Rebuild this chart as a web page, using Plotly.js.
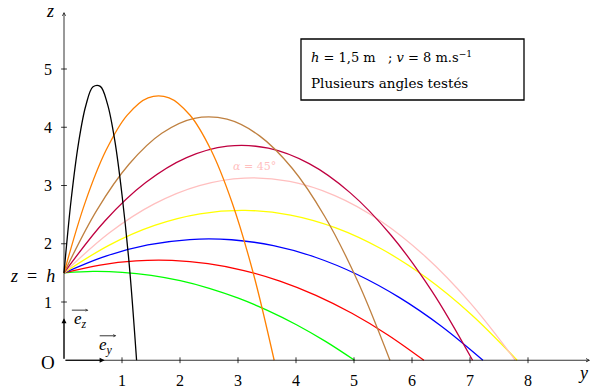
<!DOCTYPE html>
<html>
<head>
<meta charset="utf-8">
<script src="https://cdn.plot.ly/plotly-3.0.1.min.js"></script>
<style>html,body{margin:0;padding:0;background:#fff;}#chart{width:600px;height:391px;}</style>
</head>
<body>
<div id="chart"></div>
<script>
// Launch angles (degrees) and trajectories y (m) / z (m)
const angles = [5, 15, 25, 35, 45, 55, 65, 75, 85];

const y05 = [0, 0.501, 1.002, 1.503, 2.004, 2.505, 3.006, 3.507, 4.008, 4.509, 5.010];
const z05 = [1.5, 1.5245, 1.5101, 1.4570, 1.3652, 1.2346, 1.0652, 0.8570, 0.6101, 0.3244, 0];

const y15 = [0, 0.6205, 1.2410, 1.8615, 2.4820, 3.1025, 3.7229, 4.3434, 4.9639, 5.5844, 6.2049];
const z15 = [1.5, 1.6346, 1.7060, 1.7141, 1.6590, 1.5406, 1.3590, 1.1141, 0.8060, 0.4346, 0];

const y25 = [0, 0.7223, 1.4446, 2.1670, 2.8893, 3.6116, 4.3339, 5.0562, 5.7786, 6.5009, 7.2232];
const z25 = [1.5, 1.7881, 1.9789, 2.0723, 2.0684, 1.9671, 1.7684, 1.4723, 1.0789, 0.5881, 0];

const y35 = [0, 0.7812, 1.5623, 2.3435, 3.1247, 3.9059, 4.6870, 5.4682, 6.2494, 7.0305, 7.8117];
const z35 = [1.5, 1.9773, 2.3152, 2.5137, 2.5728, 2.4925, 2.2728, 1.9137, 1.4152, 0.7773, 0];

const y45 = [0, 0.7782, 1.5563, 2.3345, 3.1126, 3.8908, 4.6689, 5.4471, 6.2252, 7.0034, 7.7815];
const z45 = [1.5, 2.1853, 2.6850, 2.9991, 3.1276, 3.0704, 2.8276, 2.3991, 1.7850, 0.9853, 0];

const y55 = [0, 0.7045, 1.4089, 2.1134, 2.8178, 3.5223, 4.2267, 4.9312, 5.6356, 6.3401, 7.0445];
const z55 = [1.5, 2.3905, 3.0497, 3.4777, 3.6745, 3.6402, 3.3745, 2.8777, 2.1497, 1.1905, 0];

const y65 = [0, 0.5620, 1.1239, 1.6859, 2.2479, 2.8099, 3.3718, 3.9338, 4.4958, 5.0577, 5.6197];
const z65 = [1.5, 2.5696, 3.3682, 3.8958, 4.1524, 4.1379, 3.8524, 3.2958, 2.4682, 1.3696, 0];

const y75 = [0, 0.3624, 0.7247, 1.0871, 1.4495, 1.8119, 2.1742, 2.5366, 2.8990, 3.2613, 3.6237];
const z75 = [1.5, 2.7022, 3.6038, 4.2050, 4.5057, 4.5060, 4.2057, 3.6050, 2.7038, 1.5022, 0];

const y85 = [0, 0.1252, 0.2503, 0.3755, 0.5007, 0.6258, 0.7510, 0.8761, 1.0013, 1.1265, 1.2516];
const z85 = [1.5, 2.7726, 3.7290, 4.3693, 4.6935, 4.7016, 4.3935, 3.7693, 2.8290, 1.6226, 0];

const yTicks = [1, 2, 3, 4, 5, 6, 7, 8];
const zTicks = [1, 2, 3, 4, 5];
const launchHeight = 1.5;

// ---- styles ----
const ys = [y05, y15, y25, y35, y45, y55, y65, y75, y85];
const zs = [z05, z15, z25, z35, z45, z55, z65, z75, z85];
const curveColors = ['#00ff00', '#ff0000', '#0000ff', '#ffff00', '#ffbfbf', '#bf0040', '#bf8040', '#ff8000', '#000000'];

const FONT = 'Liberation Serif';
const FONT2 = 'DejaVu Serif';
const NB = '\u00a0';

const traces = angles.map((a, i) => ({
  type: 'scatter', mode: 'lines',
  x: ys[i], y: zs[i],
  name: 'α = ' + a + '°',
  line: {color: curveColors[i], width: 1.3, shape: 'spline', smoothing: 1},
  hoverinfo: 'skip', cliponaxis: false
}));

const yEnd = 9.07, zEnd = 5.98;
const tk = 0.05;

const shapes = [];
yTicks.forEach(v => shapes.push({type: 'line', xref: 'x', yref: 'y', x0: v, x1: v, y0: -tk, y1: tk, line: {color: '#000', width: 0.8}}));
zTicks.forEach(v => shapes.push({type: 'line', xref: 'x', yref: 'y', x0: -tk, x1: tk, y0: v, y1: v, line: {color: '#000', width: 0.8}}));
// info box
shapes.push({type: 'rect', xref: 'x', yref: 'y', x0: 4.086, x1: 7.931, y0: 4.468, y1: 5.515, line: {color: '#000', width: 1.3}, fillcolor: 'rgba(0,0,0,0)'});

const annotations = [];
const arrow = (x, y, ax, ay, head, size, width) => ({x, y, ax, ay, axref: 'x', ayref: 'y', xref: 'x', yref: 'y', text: '', showarrow: true, arrowhead: head, arrowsize: size, arrowwidth: width, arrowcolor: '#000', standoff: 0});
// axes with arrows
annotations.push(arrow(yEnd, 0, 0, 0, 5, 0.8, 0.8));
annotations.push(arrow(0, zEnd, 0, 0, 5, 0.8, 0.8));
// unit vectors
annotations.push(arrow(0.70, 0, 0, 0, 2, 1, 1));
annotations.push(arrow(0, 0.72, 0, 0, 2, 1, 1));

// tick labels
yTicks.forEach(v => annotations.push({x: v, y: -0.34, xref: 'x', yref: 'y', text: String(v), showarrow: false, font: {family: FONT, size: 16, color: '#000'}}));
zTicks.forEach(v => annotations.push({x: -0.28, y: v, xref: 'x', yref: 'y', text: String(v), showarrow: false, font: {family: FONT, size: 16, color: '#000'}}));

const txt = (x, y, text, size, opts) => Object.assign({x, y, xref: 'x', yref: 'y', text, showarrow: false, font: {family: FONT, size, color: '#000'}}, opts || {});
annotations.push(txt(-0.28, -0.03, 'O', 19));
annotations.push(txt(-0.24, zEnd + 0.02, '<i>z</i>', 18));
annotations.push(txt(8.95, -0.22, '<i>y</i>', 18));
annotations.push(txt(-0.55, 1.44, '<i>z</i>' + NB + NB + '=' + NB + NB + '<i>h</i>', 18));
// unit vector labels
annotations.push(txt(0.29, 0.69, '<i>e</i><sub><i>z</i></sub>', 17));
annotations.push(txt(0.72, 0.25, '<i>e</i><sub><i>y</i></sub>', 17));
// arrows over the vector labels
annotations.push({x: 0.42, y: 0.86, xref: 'x', yref: 'y', ax: -18, ay: 0, text: '', showarrow: true, arrowhead: 5, arrowsize: 0.6, arrowwidth: 0.8, arrowcolor: '#000', standoff: 0});
annotations.push({x: 0.90, y: 0.42, xref: 'x', yref: 'y', ax: -18, ay: 0, text: '', showarrow: true, arrowhead: 5, arrowsize: 0.6, arrowwidth: 0.8, arrowcolor: '#000', standoff: 0});
// info box text
annotations.push(txt(4.23, 5.20, '<i>h</i>' + NB + '=' + NB + '1,5' + NB + 'm' + NB + NB + NB + ';' + NB + '<i>v</i>' + NB + '=' + NB + '8' + NB + 'm.s<sup>−1</sup>', 13, {xanchor: 'left', font: {family: FONT2, size: 13, color: '#000'}}));
annotations.push(txt(4.23, 4.765, 'Plusieurs angles testés', 13.5, {xanchor: 'left', font: {family: FONT2, size: 13.5, color: '#000'}}));
// angle label
annotations.push(txt(3.29, 3.33, '<i>α</i>' + NB + '=' + NB + '45°', 11, {font: {family: FONT2, size: 11, color: '#ffbfbf'}}));

const layout = {
  width: 600, height: 391,
  margin: {l: 0, r: 0, t: 0, b: 0},
  paper_bgcolor: '#fff', plot_bgcolor: '#fff',
  showlegend: false,
  xaxis: {range: [-64 / 58, 536 / 58], visible: false, fixedrange: true},
  yaxis: {range: [(360.25 - 391) / 58.25, 360.25 / 58.25], visible: false, fixedrange: true},
  shapes, annotations
};

Plotly.newPlot('chart', traces, layout, {staticPlot: true, displayModeBar: false});
</script>
</body>
</html>
